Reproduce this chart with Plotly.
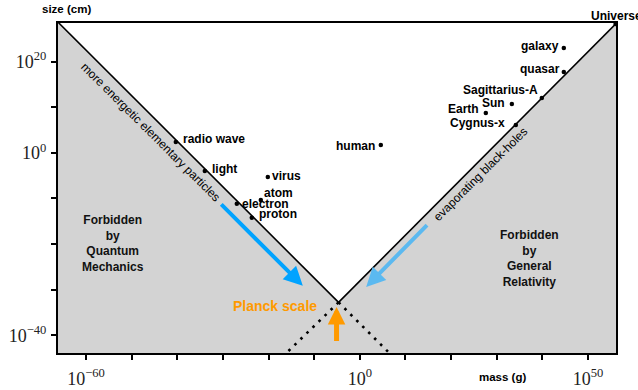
import plotly.graph_objects as go

# ---------------- data (log10 values) ----------------
# boundary lines: quantum (reduced Compton wavelength) and gravity (Schwarzschild radius)
quantum_logm = [-66.13, -4.66]
quantum_logr = [28.68, -32.79]
quantum_ext_logm = [-4.66, 6.66]
quantum_ext_logr = [-32.79, -44.1]
gravity_logm = [-4.66, 56.03]
gravity_logr = [-32.79, 28.29]
gravity_ext_logm = [-4.66, -16.3]
gravity_ext_logr = [-32.79, -44.1]

# objects: mass in g, size in cm (log10)
obj_names = ["radio wave", "light", "virus", "atom", "electron", "proton", "human",
             "Earth", "Sun", "Cygnus-x", "Sagittarius-A", "quasar", "galaxy", "Universe"]
obj_logm = [-40.32, -33.96, -20.16, -21.69, -26.95, -23.67, 4.60,
            27.61, 33.31, 34.18, 39.88, 44.70, 44.70, 56.03]
obj_logr = [2.41, -3.95, -5.26, -10.31, -11.18, -14.25, 1.75,
            8.77, 10.75, 6.14, 12.06, 17.76, 23.03, 28.29]

# arrows (tail -> tip) in log10 units
arrow_names = ["particles", "black-holes", "planck"]
arrow_tail_logm = [-30.68, 15.05, -5.1]
arrow_tail_logr = [-10.96, -15.5, -41.6]
arrow_tip_logm = [-12.49, 1.39, -5.1]
arrow_tip_logr = [-29.17, -29.4, -33.8]

x_tick_exp = list(range(-60, 51, 10))
x_tick_labeled = [-60, 0, 50]
y_tick_exp = list(range(-40, 21, 10))
y_tick_labeled = [-40, 0, 20]

# ---------------- styling ----------------
X_RANGE = [-66.13, 56.13]
Y_RANGE = [-43.9, 28.5]
SANS = "Liberation Sans, Arial, sans-serif"
SERIF = "Liberation Serif, Times New Roman, serif"
GRAY = "#d3d3d3"

label_place = {
    "radio wave": ("left", 5, 3),
    "light": ("left", 5, 2),
    "virus": ("left", 2, 1),
    "atom": ("left", 1.5, 7),
    "electron": ("left", 3, 0),
    "proton": ("left", 5, 4),
    "human": ("right", -4, -1),
    "Earth": ("right", -5, 4),
    "Sun": ("right", -5, 1),
    "Cygnus-x": ("right", -9, 2),
    "Sagittarius-A": ("right", -1.5, 8),
    "quasar": ("right", -2, 3),
    "galaxy": ("right", -2.5, 2),
    "Universe": ("left", -27, 8),
}

def p(v):
    return [10.0 ** a for a in v]

fig = go.Figure()

# forbidden region
fill_x = quantum_logm + gravity_logm[1:] + [X_RANGE[1], X_RANGE[1], X_RANGE[0]]
fill_y = quantum_logr + gravity_logr[1:] + [Y_RANGE[1], -44.5, -44.5]
fig.add_trace(go.Scatter(x=p(fill_x), y=p(fill_y), mode="lines", fill="toself",
                         fillcolor=GRAY, line=dict(width=0), hoverinfo="skip"))

for lx, ly in [(quantum_logm, quantum_logr), (gravity_logm, gravity_logr)]:
    fig.add_trace(go.Scatter(x=p(lx), y=p(ly), mode="lines",
                             line=dict(color="black", width=1.6)))
for lx, ly in [(quantum_ext_logm, quantum_ext_logr), (gravity_ext_logm, gravity_ext_logr)]:
    fig.add_trace(go.Scatter(x=p(lx), y=p(ly), mode="lines",
                             line=dict(color="black", width=2.6, dash="2.6px,5.8px")))

fig.add_trace(go.Scatter(x=p(obj_logm), y=p(obj_logr), mode="markers",
                         marker=dict(color="black", size=4.5), cliponaxis=False))

ann = []
for name, lm, lr in zip(obj_names, obj_logm, obj_logr):
    anc, xs, ys = label_place[name]
    ann.append(dict(x=lm, y=lr, xref="x", yref="y", text=f"<b>{name}</b>",
                    showarrow=False, xanchor=anc, yanchor="middle", xshift=xs, yshift=ys,
                    font=dict(family=SANS, size=12, color="black")))

# region labels
ann.append(dict(x=-54.12, y=-19.85, xref="x", yref="y",
                text="<b>Forbidden<br>by<br>Quantum<br>Mechanics</b>", showarrow=False,
                align="center", font=dict(family=SANS, size=12, color="#111")))
ann.append(dict(x=37.08, y=-23.14, xref="x", yref="y",
                text="<b>Forbidden<br>by<br>General<br>Relativity</b>", showarrow=False,
                align="center", font=dict(family=SANS, size=12, color="#111")))

# rotated labels along the lines
ann.append(dict(x=-45.9, y=4.5, xref="x", yref="y", text="more energetic elementary particles",
                showarrow=False, textangle=44.9, font=dict(family=SANS, size=12, color="black")))
ann.append(dict(x=26.47, y=-4.6, xref="x", yref="y", text="evaporating black-holes",
                showarrow=False, textangle=-44.9, font=dict(family=SANS, size=12, color="black")))

# Planck scale label
ann.append(dict(x=-4.66, y=-32.79, xref="x", yref="y", text="<b>Planck scale</b>",
                showarrow=False, xanchor="right", yanchor="middle", xshift=-19.4, yshift=-3.3,
                font=dict(family=SANS, size=14, color="#ff9a00")))

arrow_style = {
    "particles": ("#00a3ff", 4, 0.95),
    "black-holes": ("#5bb9f0", 4, 0.95),
    "planck": ("#ff9a00", 5, 0.7),
}
for name, tx, ty, hx, hy in zip(arrow_names, arrow_tail_logm, arrow_tail_logr,
                                arrow_tip_logm, arrow_tip_logr):
    col, w, s = arrow_style[name]
    ann.append(dict(x=hx, y=hy, ax=tx, ay=ty, xref="x", yref="y", axref="x", ayref="y",
                    text="", showarrow=True, arrowhead=2, arrowsize=s, arrowwidth=w,
                    arrowcolor=col, standoff=0, startstandoff=0))

# axis titles
ann.append(dict(x=66, y=9, xref="paper", yref="paper", text="<b>size (cm)</b>", showarrow=False,
                font=dict(family=SANS, size=11.5, color="black")))
ann.append(dict(x=502, y=377, xref="paper", yref="paper", text="<b>mass (g)</b>", showarrow=False,
                font=dict(family=SANS, size=11.5, color="black")))

W, H = 638, 390
L, R, T, B = 58, 22, 23, 37
pw, ph = W - L - R, H - T - B
for a in ann:
    if a.get("xref") == "paper":
        a["x"] = (a["x"] - L) / pw
        a["y"] = 1 - (a["y"] - T) / ph
        a["xanchor"] = "center"
        a["yanchor"] = "middle"

def fmt(e):
    return "10<sup>" + (str(e) if e >= 0 else "\u2212" + str(-e)) + "</sup>"

fig.update_layout(
    width=W, height=H, margin=dict(l=L, r=R, t=T, b=B, autoexpand=False),
    paper_bgcolor="white", plot_bgcolor="white", showlegend=False,
    annotations=ann,
    xaxis=dict(type="log", range=X_RANGE, showgrid=False, zeroline=False, automargin=False,
               showline=True, linecolor="black", linewidth=2, mirror=True,
               ticks="outside", ticklen=5, tickwidth=1.5, tickcolor="black",
               tickvals=[10.0 ** e for e in x_tick_exp],
               ticktext=[fmt(e) if e in x_tick_labeled else "" for e in x_tick_exp],
               ticklabelstandoff=3,
               tickfont=dict(family=SERIF, size=18, color="#222")),
    yaxis=dict(type="log", range=Y_RANGE, showgrid=False, zeroline=False, automargin=False,
               showline=True, linecolor="black", linewidth=2, mirror=True,
               ticks="outside", ticklen=5, tickwidth=1.5, tickcolor="black",
               tickvals=[10.0 ** e for e in y_tick_exp],
               ticktext=[fmt(e) if e in y_tick_labeled else "" for e in y_tick_exp],
               ticklabelstandoff=1,
               tickfont=dict(family=SERIF, size=18, color="#222")),
)

fig.write_html("out.html")
